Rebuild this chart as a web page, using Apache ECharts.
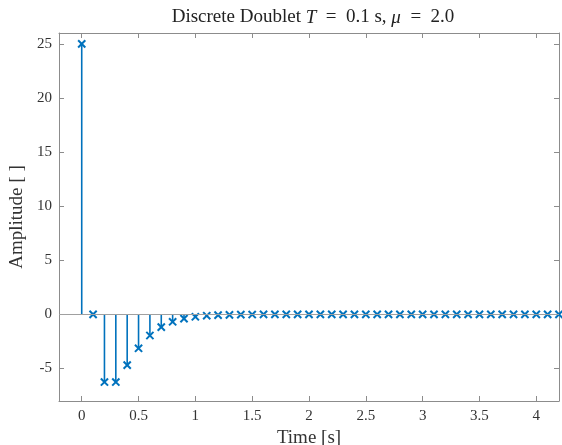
<!DOCTYPE html>
<html><head><meta charset="utf-8">
<script src="https://cdn.jsdelivr.net/npm/echarts@6/dist/echarts.min.js"></script>
<style>html,body{margin:0;padding:0;background:#fff}#c{width:562px;height:445px}</style>
</head><body><div id="c"></div>
<script>
const times = [0,0.1,0.2,0.3,0.4,0.5,0.6,0.7,0.8,0.9,1.0,1.1,1.2,1.3,1.4,1.5,1.6,1.7,1.8,1.9,2.0,2.1,2.2,2.3,2.4,2.5,2.6,2.7,2.8,2.9,3.0,3.1,3.2,3.3,3.4,3.5,3.6,3.7,3.8,3.9,4.0,4.1,4.2];
const amplitude = [25,0,-6.25,-6.25,-4.69,-3.13,-1.95,-1.17,-0.68,-0.39,-0.22,-0.12,-0.07,-0.04,-0.02,-0.01,0,0,0,0,0,0,0,0,0,0,0,0,0,0,0,0,0,0,0,0,0,0,0,0,0,0,0];
const xTicks = [0,0.5,1,1.5,2,2.5,3,3.5,4];
const yTicks = [-5,0,5,10,15,20,25];

const FONT = 'Liberation Serif';
const AX = '#8c8c8c';
const LBL = '#333';
const BLUE = '#0072BD';

const chart = echarts.init(document.getElementById('c'));
const baseX = {
  type:'value', min:-0.2, max:4.2,
  axisLine:{show:true, onZero:false, lineStyle:{color:AX, width:1}},
  axisTick:{show:true, inside:true, length:5, customValues:xTicks, lineStyle:{color:AX}},
  splitLine:{show:false}
};
const baseY = {
  type:'value', min:-8, max:26,
  axisLine:{show:true, onZero:false, lineStyle:{color:AX, width:1}},
  axisTick:{show:true, inside:true, length:5, customValues:yTicks, lineStyle:{color:AX}},
  splitLine:{show:false}
};
chart.setOption({
  animation:false,
  title:{
    text:'{n|Discrete Doublet }{i|T}{n|  =  0.1 s, }{i|μ}{n|  =  2.0}',
    left:308, top:3, textAlign:'center',
    textStyle:{fontWeight:'normal', rich:{
      n:{fontFamily:FONT, fontSize:19, fontWeight:'normal', color:'#222'},
      i:{fontFamily:FONT, fontSize:19, fontWeight:'normal', fontStyle:'italic', color:'#222'}
    }}
  },
  grid:{left:59, right:3, top:33, bottom:44, outerBoundsMode:'none', containLabel:false},
  xAxis:[
    Object.assign({}, baseX, {position:'bottom',
      axisLabel:{show:true, customValues:xTicks, margin:8, fontFamily:FONT, fontSize:15, color:LBL},
      name:'Time [s]', nameLocation:'middle', nameGap:22,
      nameTextStyle:{fontFamily:FONT, fontSize:19, color:'#333'}}),
    Object.assign({}, baseX, {position:'top', axisLabel:{show:false}})
  ],
  yAxis:[
    Object.assign({}, baseY, {position:'left',
      axisLabel:{show:true, customValues:yTicks, margin:7, fontFamily:FONT, fontSize:15, color:LBL},
      name:'Amplitude [ ]', nameLocation:'middle', nameGap:20,
      nameTextStyle:{fontFamily:FONT, fontSize:19, color:'#333'}}),
    Object.assign({}, baseY, {position:'right', axisLabel:{show:false}})
  ],
  series:[{
    type:'custom',
    clip:false,
    data: times.map((t,i)=>[t, amplitude[i]]),
    renderItem:function(params, api){
      const x = api.value(0), v = api.value(1);
      const p0 = api.coord([x,0]);
      const p1 = api.coord([x,v]);
      const s = 3.6;
      const st = {stroke:BLUE, lineWidth:1.6};
      const st2 = {stroke:BLUE, lineWidth:2};
      return {type:'group', children:[
        {type:'line', shape:{x1:p0[0],y1:p0[1],x2:p1[0],y2:p1[1]}, style:st},
        {type:'line', shape:{x1:p1[0]-s,y1:p1[1]-s,x2:p1[0]+s,y2:p1[1]+s}, style:st2},
        {type:'line', shape:{x1:p1[0]-s,y1:p1[1]+s,x2:p1[0]+s,y2:p1[1]-s}, style:st2}
      ]};
    },
    markLine:{silent:true, symbol:'none', label:{show:false},
      lineStyle:{color:'#a0a0a0', width:1, type:'solid'},
      data:[{yAxis:0}]},
    z:3
  }]
});
</script></body></html>
